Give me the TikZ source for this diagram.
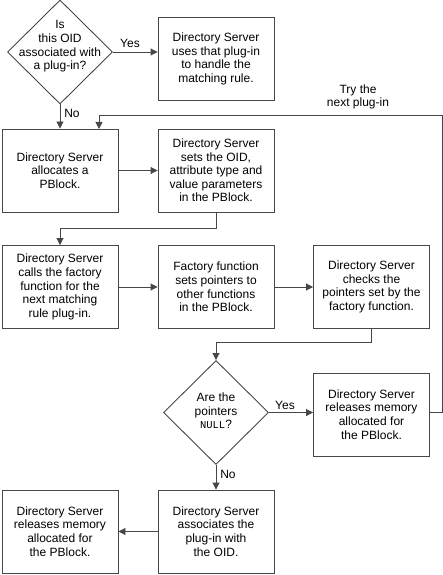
\documentclass[tikz,border=0pt]{standalone}
\usepackage{fontspec}
\setmainfont{Liberation Sans}
\newfontfamily\codefont{Liberation Mono}
\usetikzlibrary{shapes.geometric,arrows.meta}
\begin{document}
\begin{tikzpicture}[x=1pt,y=-1pt,
  font=\fontsize{12}{13.6}\selectfont,
  lc/.style={draw=black!72,line width=0.9pt},
  stepbox/.style={lc,rectangle,minimum width=116pt,minimum height=83pt,inner sep=0pt,align=center,text=black},
  dia/.style={lc,diamond,minimum width=105pt,minimum height=104pt,inner sep=0pt},
  txt/.style={align=center,inner sep=0pt},
  arr/.style={lc,-{Triangle[length=7pt,width=7pt]}},
  ln/.style={lc}
]
\useasboundingbox (0,0) rectangle (443,575);
% row 1
\node[dia] (d1) at (60,52) {};
\node[txt] (d1t) at (60,46.5) {Is\\this OID\\associated with\\a plug-in?};
\node[stepbox] (b1) at (216,59) {Directory Server\\uses that plug-in\\to handle the\\matching rule.};
% row 2
\node[stepbox] (b2) at (60,170.5) {Directory Server\\allocates a\\PBlock.};
\node[stepbox] (b3) at (216,170.5) {Directory Server\\sets the OID,\\attribute type and\\value parameters\\in the PBlock.};
% row 3
\node[stepbox] (b4) at (60,287) {Directory Server\\calls the factory\\function for the\\next matching\\rule plug-in.};
\node[stepbox] (b5) at (216,287) {Factory function\\sets pointers to\\other functions\\in the PBlock.};
\node[stepbox] (b6) at (371.5,287) {Directory Server\\checks the\\pointers set by the\\factory function.};
% row 4
\node[dia] (d2) at (216,412.5) {};
\node[txt] (d2t) at (216,411) {Are the\\pointers\\{\codefont\fontsize{10.5}{13.6}\selectfont NULL}?};
\node[stepbox] (b7) at (371.5,414.5) {Directory Server\\releases memory\\allocated for\\the PBlock.};
% row 5
\node[stepbox] (b8) at (216,531.5) {Directory Server\\associates the\\plug-in with\\the OID.};
\node[stepbox] (b9) at (60,531.5) {Directory Server\\releases memory\\allocated for\\the PBlock.};
% labels
\node[txt] (yes1) at (130,43) {Yes};
\node[txt] (no1) at (72,113) {No};
\node[txt] (try) at (358,97) {Try the\\next plug-in};
\node[txt] (yes2) at (285,405) {Yes};
\node[txt] (no2) at (228,474) {No};
% connectors
\coordinate (loopR) at (442,115);
\coordinate (loopIn) at (99,129);
\draw[arr] (d1.east) -- (d1.east -| b1.west);
\draw[arr] (d1.south) -- (b2.north);
\draw[arr] (b7.east |- d2.east) -| (loopR) -| (loopIn);
\draw[arr] (b2.east) -- (b3.west);
\draw[arr] (b3.south) -- ++(0,16) -| (b4.north);
\draw[arr] (b4.east) -- (b5.west);
\draw[arr] (b5.east) -- (b6.west);
\draw[arr] (b6.south) -- ++(0,13) -| (d2.north);
\draw[arr] (d2.east) -- (d2.east -| b7.west);
\draw[arr] (d2.south) -- (b8.north);
\draw[arr] (b8.west) -- (b9.east);
\end{tikzpicture}
\end{document}
